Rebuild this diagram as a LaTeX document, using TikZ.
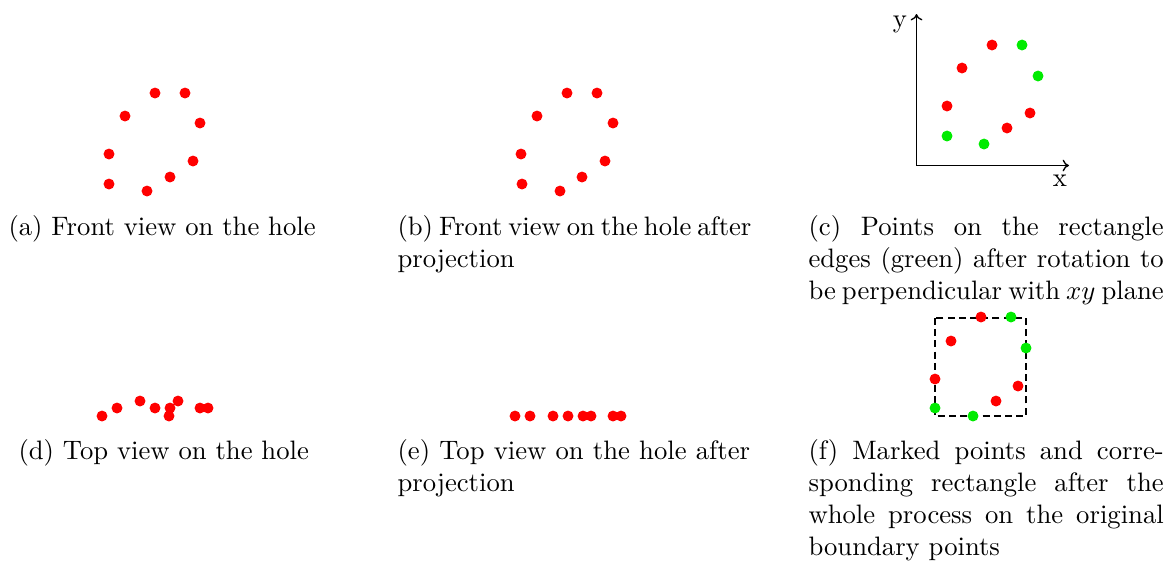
\documentclass[tikz,border=0pt]{standalone}
\usetikzlibrary{arrows.meta}
\definecolor{dotred}{RGB}{255,0,0}
\definecolor{dotgreen}{RGB}{0,235,0}
\begin{document}
\begin{tikzpicture}[x=0.375pt,y=-0.375pt,
  rdot/.style={circle,fill=dotred,inner sep=0pt,minimum size=4.1pt},
  gdot/.style={circle,fill=dotgreen,inner sep=0pt,minimum size=4.1pt},
  captext/.style={anchor=base west,inner sep=0pt,align=left,font=\fontsize{10}{12}\selectfont},
  axis/.style={line width=0.5pt,-{To[length=2.4pt,width=4.4pt]}},
  rectline/.style={line width=0.45pt,dash pattern=on 2.6pt off 1.6pt}]
\useasboundingbox (0,0) rectangle (1176,560);
% (a)
\foreach \n/\x/\y in {1/155/93,2/185/93,3/125/116,4/200/123,5/109/154,6/193/161,7/170/177,8/109/184,9/147/191}
  \node[rdot] (a\n) at (\x,\y) {};
% (b)
\foreach \n/\x/\y in {1/567/93,2/597/93,3/537/116,4/613/123,5/521/154,6/605/161,7/582/177,8/522/184,9/560/191}
  \node[rdot] (b\n) at (\x,\y) {};
% (c)
\coordinate (corig) at (916.5,165.5);
\coordinate (ctop) at (916.5,14);
\coordinate (cright) at (1069,165.5);
\draw[axis] (corig) -- (ctop);
\draw[axis] (corig) -- (cright);
\node[anchor=base,inner sep=0pt] (ylab) at (900,27) {y};
\node[anchor=base,inner sep=0pt] (xlab) at (1060,186) {x};
\foreach \n/\x/\y in {1/992/45,3/962/68,5/947/106,6/1030/113,7/1007/128}
  \node[rdot] (c\n) at (\x,\y) {};
\foreach \n/\x/\y in {2/1022/45,4/1038/76,8/947/136,9/984/144}
  \node[gdot] (c\n) at (\x,\y) {};
% (d)
\foreach \n/\x/\y in {1/102/416,2/117/408,3/140/401,4/155/408,5/170/408,6/169/416,7/178/401,8/200/408,9/208/408}
  \node[rdot] (d\n) at (\x,\y) {};
% (e)
\foreach \n/\x in {1/515,2/530,3/553,4/568,5/583,6/591,7/613,8/621}
  \node[rdot] (e\n) at (\x,416) {};
% (f)
\draw[rectline] (935,318) rectangle (1026,416);
\foreach \n/\x/\y in {1/981/317,3/951/341,5/935/379,6/1018/386,7/996/401}
  \node[rdot] (f\n) at (\x,\y) {};
\foreach \n/\x/\y in {2/1011/317,4/1026/348,8/935/408,9/973/416}
  \node[gdot] (f\n) at (\x,\y) {};
% captions (base anchor = baseline of last line)
\node[captext] (capa) at (8,235) {(a) Front view on the hole};
\node[captext] (capb) at (397,267) {\makebox[132.2pt][s]{(b) Front view on the hole after}\\projection};
\node[captext] (capc) at (808,299) {\makebox[133.2pt][s]{(c) Points on the rectangle}\\\makebox[133.2pt][s]{edges (green) after rotation to}\\\makebox[133.2pt][s]{be perpendicular with $xy$ plane}};
\node[captext] (capd) at (18,459) {(d) Top view on the hole};
\node[captext] (cape) at (397,491) {\makebox[132.2pt][s]{(e) Top view on the hole after}\\projection};
\node[captext] (capf) at (808,555) {\makebox[133.2pt][s]{(f) Marked points and corre-}\\\makebox[133.2pt][s]{sponding rectangle after the}\\\makebox[133.2pt][s]{whole process on the original}\\boundary points};
\end{tikzpicture}
\end{document}
